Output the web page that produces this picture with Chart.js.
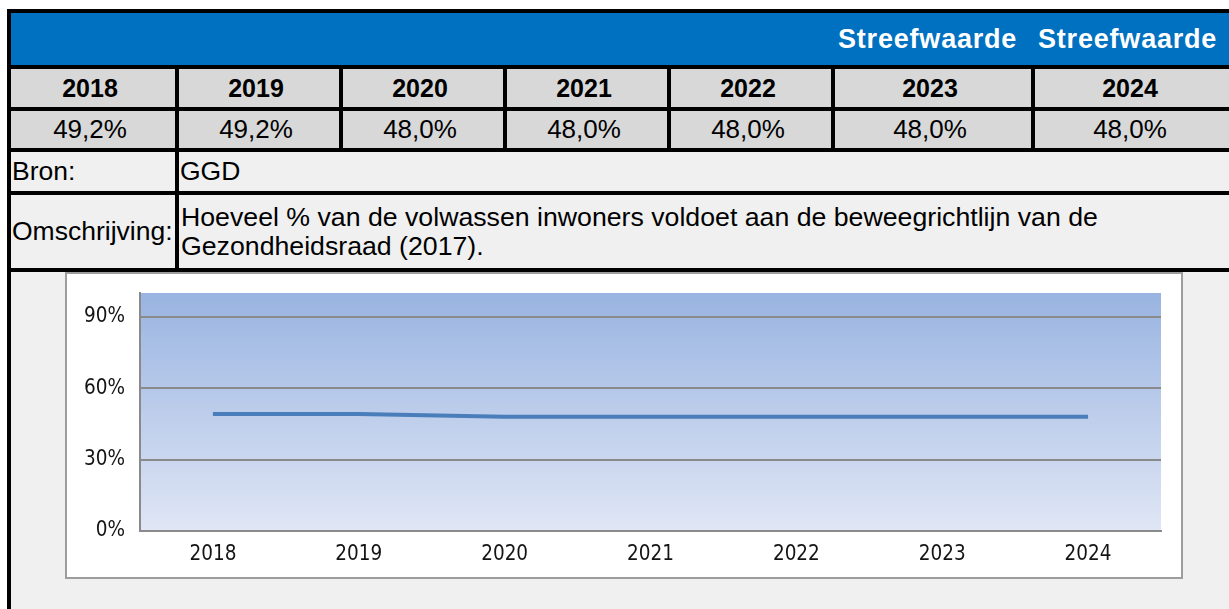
<!DOCTYPE html>
<html>
<head>
<meta charset="utf-8">
<script src="https://cdn.jsdelivr.net/npm/chart.js@4.4.0/dist/chart.umd.min.js"></script>
<style>
  html, body { margin: 0; padding: 0; background: #ffffff; overflow: hidden; width: 1229px; height: 609px; }
  .abs { position: absolute; box-sizing: border-box; }
  .frame { left: 7px; top: 9px; width: 1240px; height: 620px; background: #000; }
  .blue { background: #0070c0; }
  .grey { background: #d8d8d8; }
  .light { background: #f0f0f0; }
  .cell { display: flex; align-items: center; font-family: Arial, "Liberation Sans", sans-serif; color: #000; white-space: nowrap; }
  .center { justify-content: center; padding-right: 6px; }
  .hdr { font-weight: bold; font-size: 25px; }
  .val { font-size: 26px; }
  .streef { color: #fff; font-weight: bold; font-size: 27px; letter-spacing: 0.8px; padding-left: 3px; }
  .lbl { font-size: 26.5px; padding-left: 1px; }
  .desc { font-size: 26.7px; line-height: 29px; padding-left: 2px; white-space: normal; }
  #chartBox { left: 65px; top: 272px; width: 1118px; height: 307px; background: #fff; border: 2px solid #9d9d9d; }
  #chartBox canvas { position: absolute; left: 0; top: 0; }
</style>
</head>
<body>
<div id="root"></div>
<script>
// ---- data ----
const years = ['2018', '2019', '2020', '2021', '2022', '2023', '2024'];
const values = [49.2, 49.2, 48.0, 48.0, 48.0, 48.0, 48.0];
const headerNotes = ['', '', '', '', '', 'Streefwaarde', 'Streefwaarde'];
const sourceLabel = 'Bron:';
const sourceText = 'GGD';
const descLabel = 'Omschrijving:';
const descText = 'Hoeveel % van de volwassen inwoners voldoet aan de beweegrichtlijn van de Gezondheidsraad (2017).';
const yTicks = [0, 30, 60, 90];
const yMax = 100;

// ---- layout (positions only) ----
const colLeft = [11, 179, 343, 507, 671, 835, 1035];
const colWidth = [164, 160, 160, 160, 160, 196, 196];

const root = document.getElementById('root');
function box(cls, l, t, w, h, text) {
  const d = document.createElement('div');
  d.className = 'abs ' + cls;
  d.style.left = l + 'px'; d.style.top = t + 'px';
  d.style.width = w + 'px'; d.style.height = h + 'px';
  if (text !== undefined) d.textContent = text;
  root.appendChild(d);
  return d;
}
const fmt = v => v.toFixed(1).replace('.', ',') + '%';

box('frame', 7, 9, 1240, 620);
box('blue', 11, 13, 1230, 52);
headerNotes.forEach((t, i) => { if (t) box('cell streef', colLeft[i], 13, colWidth[i], 52, t); });
years.forEach((y, i) => box('grey cell center hdr', colLeft[i], 69, colWidth[i], 38, y));
values.forEach((v, i) => box('grey cell center val', colLeft[i], 111, colWidth[i], 37, fmt(v)));
box('light cell lbl', 11, 152, 164, 39, sourceLabel);
box('light cell lbl', 179, 152, 1062, 39, sourceText);
box('light cell lbl', 11, 195, 164, 73, descLabel);
const dd = box('light cell desc', 179, 195, 1062, 73);
const span = document.createElement('div'); span.style.width = '960px'; span.textContent = descText; dd.appendChild(span);
box('light', 11, 272, 1230, 400);

const cb = box('', 65, 272, 1118, 307);
cb.id = 'chartBox';
const canvas = document.createElement('canvas');
canvas.width = 1114; canvas.height = 303;
canvas.style.width = '1114px'; canvas.style.height = '303px';
cb.appendChild(canvas);

const plotBg = {
  id: 'plotBg',
  beforeDraw(chart) {
    const a = chart.chartArea, ctx = chart.ctx;
    const g = ctx.createLinearGradient(0, a.top, 0, a.bottom);
    g.addColorStop(0, '#99b4e1');
    g.addColorStop(1, '#e0e6f5');
    ctx.save();
    ctx.fillStyle = g;
    ctx.fillRect(a.left, a.top, a.right - a.left, a.bottom - a.top);
    ctx.restore();
  }
};

const tickFont = { family: '"DejaVu Sans Condensed", "DejaVu Sans", sans-serif', size: 20.5 };

new Chart(canvas, {
  type: 'line',
  data: {
    labels: years,
    datasets: [{
      data: values,
      borderColor: '#4a7ebb',
      borderWidth: 4,
      pointRadius: 0,
      pointHoverRadius: 0,
      tension: 0,
      fill: false
    }]
  },
  options: {
    responsive: false,
    animation: false,
    devicePixelRatio: 1,
    layout: { padding: { top: 19, right: 20, left: 0, bottom: 0 } },
    plugins: { legend: { display: false }, tooltip: { enabled: false } },
    scales: {
      x: {
        offset: true,
        grid: { display: false, drawTicks: false },
        border: { display: true, color: '#8a8a8a', width: 2 },
        ticks: { color: '#141414', font: tickFont, padding: 11, maxRotation: 0 },
        afterFit(s) { s.height = 46; s.paddingLeft = 0; s.paddingRight = 0; }
      },
      y: {
        min: 0, max: yMax,
        grid: { color: '#8a8a8a', lineWidth: 2, drawTicks: false },
        border: { display: true, color: '#8a8a8a', width: 2 },
        ticks: { color: '#141414', font: tickFont, padding: 15, callback: v => v + '%' },
        afterBuildTicks(s) { s.ticks = yTicks.map(v => ({ value: v })); },
        afterFit(s) { s.width = 73; s.paddingTop = 0; s.paddingBottom = 0; }
      }
    }
  },
  plugins: [plotBg]
});
</script>
</body>
</html>
